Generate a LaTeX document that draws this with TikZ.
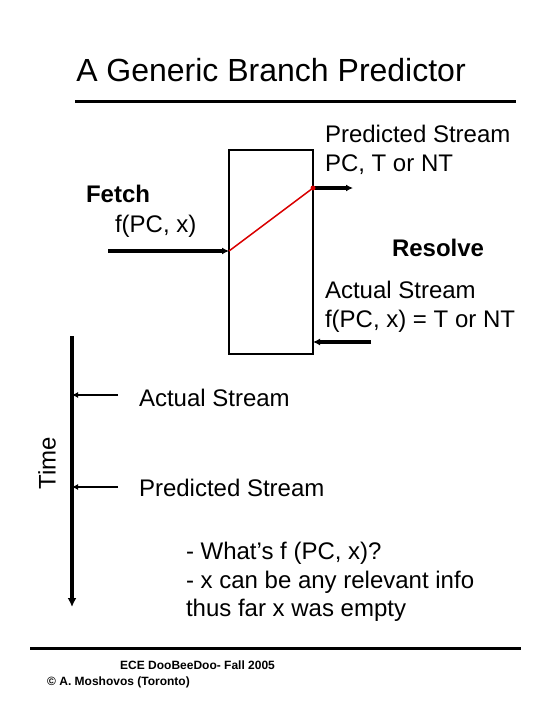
\documentclass[tikz,border=0pt]{standalone}
\usepackage{fontspec}
\setmainfont{Liberation Sans}
\usetikzlibrary{calc}
\usetikzlibrary{arrows.meta}
\tikzset{%
    label text/.style={inner sep=0pt,outer sep=0pt,anchor=base west,font=\fontsize{24}{29}\selectfont},
    bold text/.style={label text,font=\fontsize{24}{29}\selectfont\bfseries},
    foot text/.style={inner sep=0pt,anchor=base west,font=\fontsize{12}{14}\selectfont\bfseries},
    rule/.style={line width=3pt},
    predictor/.style={inner sep=0pt,outer sep=0pt,shape=rectangle,draw,line width=2.5pt,minimum width=84pt,minimum height=204pt},
    flow/.style={-{Latex[length=7pt,width=7pt]},line width=3.5pt},
    timemark/.style={-{Latex[length=6pt,width=6pt]},line width=1.8pt},
}
\begin{document}
\begin{tikzpicture}[x=1pt,y=-1pt]
        \useasboundingbox (0,0) rectangle (540,720);
        \node[inner sep=0pt,anchor=base,font=\fontsize{32}{38}\selectfont] (title) at (271,81) {A Generic Branch Predictor};
        \draw[rule] (75,101) coordinate (T1) -- (516,101) coordinate (T2);

        % the predictor box
        \node[predictor] (pred) at (271,252) {};
        \coordinate (hit) at (pred.east |- 0,188);
        \coordinate (back) at (pred.east |- 0,342);
        \coordinate (fetchin) at (108,251);
        \coordinate (predout) at (353,188);
        \coordinate (resolvein) at (371,342);
        \draw[flow] (fetchin) -- (fetchin -| pred.west);
        \draw[flow] (hit) -- (predout);
        \draw[flow] (resolvein) -- (back);
        \draw[red!85!black,line width=1.5pt] (fetchin -| pred.west) -- (hit);
        \fill[red!85!black] (hit) circle (2.5);

        \node[label text] (ps1) at (325,142) {Predicted Stream};
        \node[label text] (ps2) at (325,171) {PC, T or NT};
        \node[bold text] (fetch) at (86,202) {Fetch};
        \node[label text] (fpc) at (115,232) {f(PC, x)};
        \node[bold text] (resolve) at (392,256) {Resolve};
        \node[label text] (as1) at (325,298) {Actual Stream};
        \node[label text] (as2) at (325,327) {f(PC, x) = T or NT};

        % time line
        \coordinate (t0) at (72,336);
        \coordinate (t1) at (72,607);
        \draw[-{Latex[length=9pt,width=9pt]},line width=4pt] (t0) -- (t1);
        \node[inner sep=0pt,rotate=90,font=\fontsize{24}{29}\selectfont] (time) at (47,463) {Time};
        \coordinate (a0) at (118,395);
        \coordinate (p0) at (118,487);
        \draw[timemark] (a0) -- (a0 -| t0);
        \draw[timemark] (p0) -- (p0 -| t0);
        \node[label text] (actual) at (139,406) {Actual Stream};
        \node[label text] (predicted) at (139,496) {Predicted Stream};

        \node[label text] (q1) at (186,559) {- What’s f (PC, x)?};
        \node[label text] (q2) at (186,588) {- x can be any relevant info};
        \node[label text] (q3) at (186,616) {thus far x was empty};

        \draw[rule] (30,648) coordinate (B1) -- (521,648) coordinate (B2);
        \node[foot text] (course) at (120,669) {ECE DooBeeDoo- Fall 2005};
        \node[foot text] (author) at (47,685) {© A. Moshovos (Toronto)};
      \end{tikzpicture}
\end{document}
